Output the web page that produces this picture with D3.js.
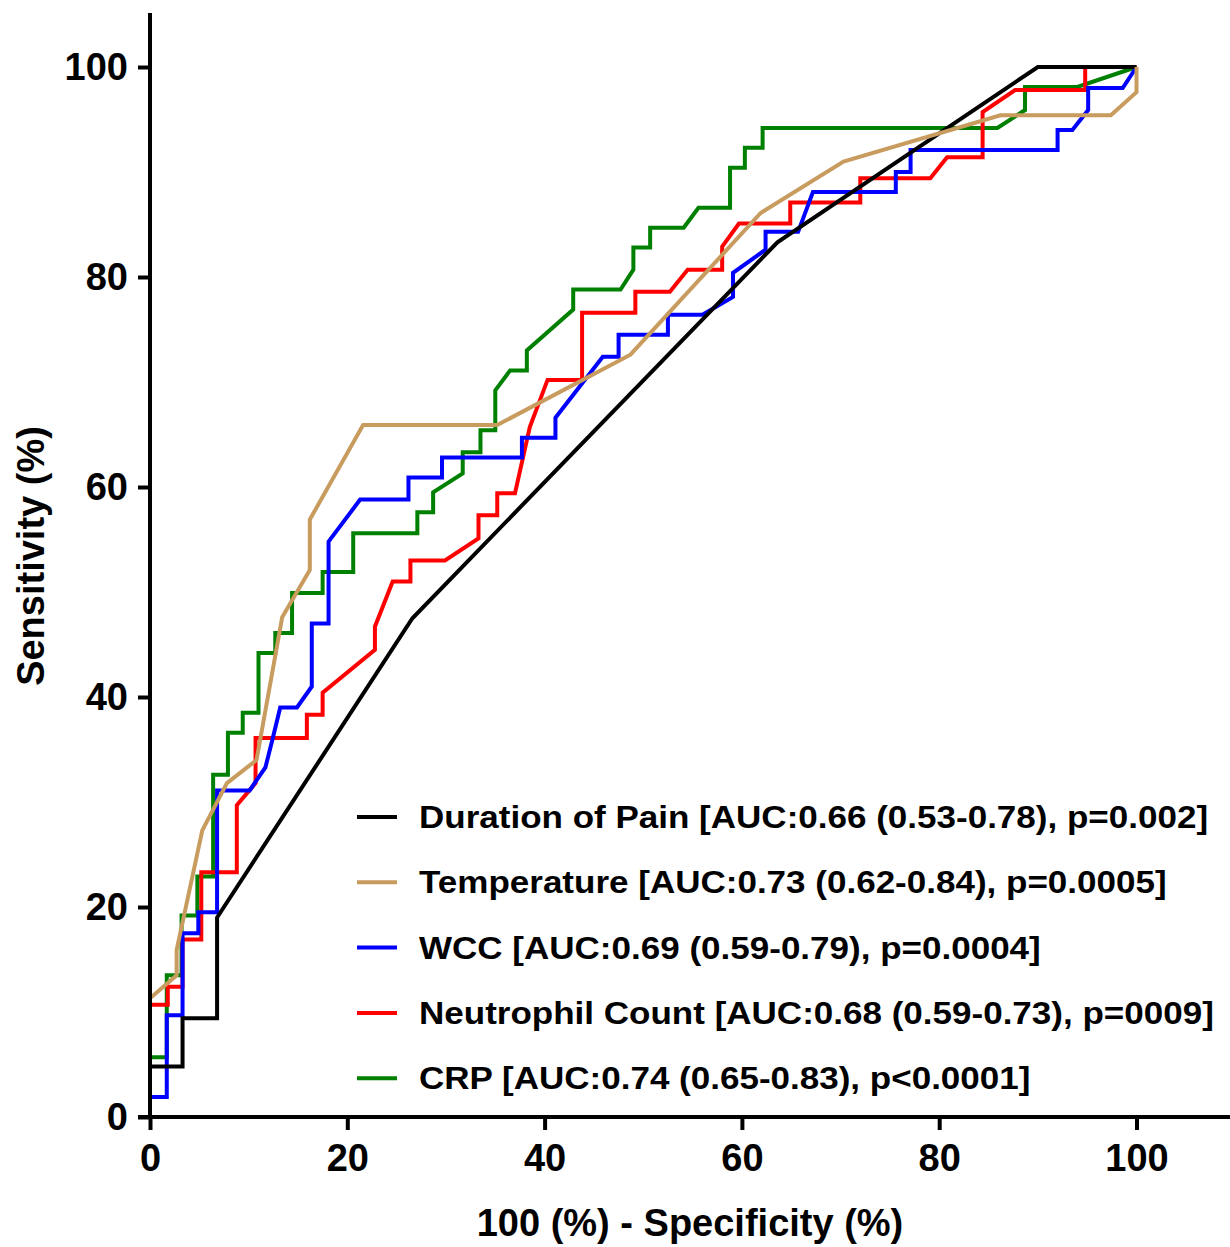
<!DOCTYPE html>
<html>
<head>
<meta charset="utf-8">
<script src="https://cdn.jsdelivr.net/npm/d3@7"></script>
<style>
  body { margin: 0; background: #fff; }
  svg { display: block; font-family: "Liberation Sans", Arial, sans-serif; font-weight: bold; }
</style>
</head>
<body>
<svg width="1230" height="1247"></svg>
<script>
// punti delle curve ROC: [100 - specificita, sensibilita]
var durationOfPain = [[0,0],[0,4.8],[3.3,4.8],[3.3,9.4],[6.8,9.4],[6.8,19.0],[26.6,47.5],[63.6,83.3],[90.0,100],[100,100]]

var temperature = [[0,0],[0,11.3],[2.7,13.5],[2.7,15.9],[5.3,27.3],[7.8,31.8],[10.8,34.0],[13.4,47.6],[16.2,52.1],[16.2,56.9],
	[21.6,65.9],[35.2,65.9],[48.7,72.6],[61.9,86.1],[70.3,91.0],[86.2,95.4],[97.4,95.4],[100,97.6],[100,100]]

var wcc = [[0,0],[0,1.9],[1.7,1.9],[1.7,9.7],[3.3,9.7],[3.3,17.5],[4.9,17.5],[4.9,19.5],[6.8,19.5],[6.8,31.1],[10.1,31.1],
	[11.7,33.3],[12.4,35.9],[13.2,39.0],[14.9,39.0],[16.4,41.0],[16.4,47.0],[18.1,47.0],[18.1,54.8],[21.3,58.8],[26.2,58.8],
	[26.2,60.9],[29.6,60.9],[29.6,62.8],[37.7,62.8],[37.7,64.7],[41.1,64.7],[41.1,66.6],[45.9,72.4],[47.5,72.4],[47.5,74.5],
	[52.5,74.5],[52.5,76.4],[56.0,76.4],[59.1,78.1],[59.1,80.4],[62.4,82.6],[62.4,84.3],[65.7,84.3],[67.2,88.1],[75.6,88.1],
	[75.6,90.0],[77.1,90.0],[77.1,92.1],[92.0,92.1],[92.0,94.0],[93.5,94.0],[95.1,95.9],[95.1,98.0],[98.6,98.0],[100,100]]

var neutrophil = [[0,0],[0,10.7],[1.8,10.7],[1.8,12.4],[3.3,12.4],[3.3,16.9],[5.2,16.9],[5.2,23.3],[8.8,23.3],[8.8,29.7],
	[10.7,31.8],[10.7,36.1],[15.9,36.1],[15.9,38.3],[17.5,38.3],[17.5,40.4],[22.8,44.5],[22.8,46.7],[24.6,51.0],[26.4,51.0],
	[26.4,53.0],[29.9,53.0],[33.3,55.1],[33.3,57.3],[35.2,57.3],[35.2,59.4],[37.0,59.4],[38.5,65.7],[40.3,70.2],[43.8,70.2],
	[43.8,76.6],[49.2,76.6],[49.2,78.6],[52.7,78.6],[54.5,80.7],[58.0,80.7],[58.0,82.9],[59.7,85.1],[64.9,85.1],[64.9,87.1],
	[72.0,87.1],[72.0,89.4],[79.1,89.4],[80.8,91.4],[84.4,91.4],[84.4,95.7],[87.7,97.8],[94.8,97.8],[94.8,100],[100,100]]

var crp = [[0,0],[0,5.7],[1.7,5.7],[1.7,13.5],[3.2,13.5],[3.2,19.2],[4.8,19.2],[4.8,22.9],[6.4,22.9],[6.4,32.6],[7.9,32.6],
	[7.9,36.6],[9.4,36.6],[9.4,38.5],[11.0,38.5],[11.0,44.2],[12.7,44.2],[12.7,46.1],[14.4,46.1],[14.4,49.9],[17.5,49.9],
	[17.5,51.9],[20.6,51.9],[20.6,55.6],[27.1,55.6],[27.1,57.6],[28.7,57.6],[28.7,59.5],[31.7,61.3],[31.7,63.3],[33.5,63.3],
	[33.5,65.4],[35.0,65.4],[35.0,69.2],[36.5,71.1],[38.2,71.1],[38.2,73.0],[42.9,76.9],[42.9,78.8],[47.7,78.8],[49.0,80.7],
	[49.0,82.8],[50.7,82.8],[50.7,84.7],[54.1,84.7],[55.6,86.6],[58.8,86.6],[58.8,90.4],[60.3,90.4],[60.3,92.3],[62.1,92.3],
	[62.1,94.2],[85.9,94.2],[88.7,95.9],[88.7,98.1],[94.0,98.1],[100,100]]

var legendLabels = [
	"Duration of Pain [AUC:0.66 (0.53-0.78), p=0.002]",
	"Temperature [AUC:0.73 (0.62-0.84), p=0.0005]",
	"WCC [AUC:0.69 (0.59-0.79), p=0.0004]",
	"Neutrophil Count [AUC:0.68 (0.59-0.73), p=0009]",
	"CRP [AUC:0.74 (0.65-0.83), p<0.0001]"
]
var colori = ["#000000", "#c89b5e", "#0000ff", "#ff0000", "#008000"]
var serie = [durationOfPain, temperature, wcc, neutrophil, crp]
var tickValori = [0, 20, 40, 60, 80, 100]

var svg = d3.select("svg")
var larghezza = 1230

var x = d3.scaleLinear().domain([0, 100]).range([150, 1136.5])
var y = d3.scaleLinear().domain([0, 100]).range([1117, 67])

// curve (verde sotto, marrone sopra)
var linea = d3.line().x(function(d){ return x(d[0]) }).y(function(d){ return y(d[1]) })
var ordine = [4, 3, 2, 0, 1]
ordine.forEach(function(i){
	svg.append("path")
		.datum(serie[i])
		.attr("d", linea)
		.attr("fill", "none")
		.attr("stroke", colori[i])
		.attr("stroke-width", 4)
		.attr("stroke-linejoin", "miter")
})

// asse x
var assex = svg.append("g")
	.attr("transform", "translate(0," + y(0) + ")")
	.call(d3.axisBottom(x).tickValues(tickValori).tickSize(13).tickSizeOuter(0).tickPadding(14))
assex.select(".domain").remove()
assex.selectAll(".tick line").attr("stroke-width", 4)
assex.selectAll("text").attr("font-size", 38).attr("font-weight", "bold").attr("fill", "#000")
	.attr("font-family", "Liberation Sans, Arial, sans-serif")
svg.append("line")
	.attr("x1", 138).attr("x2", larghezza)
	.attr("y1", y(0)).attr("y2", y(0))
	.attr("stroke", "#000").attr("stroke-width", 4)

// asse y
var assey = svg.append("g")
	.attr("transform", "translate(" + x(0) + ",0)")
	.call(d3.axisLeft(y).tickValues(tickValori).tickSize(12).tickSizeOuter(0).tickPadding(10))
assey.select(".domain").remove()
assey.selectAll(".tick line").attr("stroke-width", 4)
assey.selectAll("text").attr("font-size", 38).attr("font-weight", "bold").attr("fill", "#000")
	.attr("font-family", "Liberation Sans, Arial, sans-serif")
svg.append("line")
	.attr("x1", x(0)).attr("x2", x(0))
	.attr("y1", 13).attr("y2", y(0) + 2)
	.attr("stroke", "#000").attr("stroke-width", 4)

// titoli assi
svg.append("text")
	.attr("x", 690).attr("y", 1236)
	.attr("text-anchor", "middle")
	.attr("font-size", 38)
	.text("100 (%) - Specificity (%)")

svg.append("text")
	.attr("transform", "translate(44,556) rotate(-90)")
	.attr("text-anchor", "middle")
	.attr("font-size", 38)
	.text("Sensitivity (%)")

// legenda
var legenda = svg.append("g")
	.selectAll("g")
	.data(legendLabels)
	.enter().append("g")
	.attr("transform", function(d, i){ return "translate(357," + (817 + i * 65.3) + ")" })

legenda.append("line")
	.attr("x1", 0).attr("x2", 40)
	.attr("stroke", function(d, i){ return colori[i] })
	.attr("stroke-width", 4)

legenda.append("text")
	.attr("transform", "translate(62,11) scale(1.13,1)")
	.attr("font-size", 31)
	.text(function(d){ return d })
</script>
</body>
</html>
